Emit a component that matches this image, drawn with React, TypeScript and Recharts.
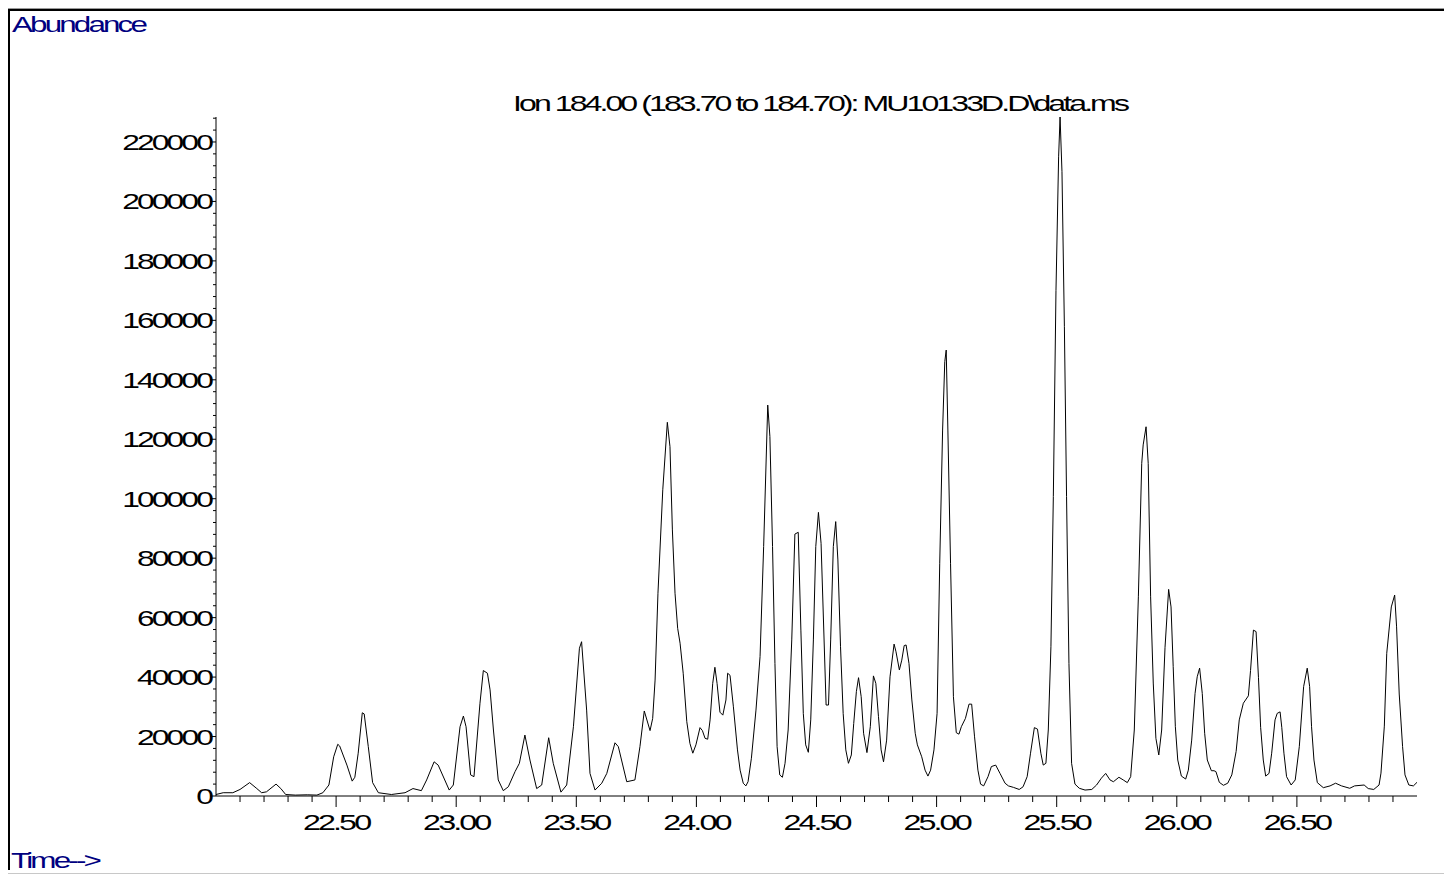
import React from 'react';
import { LineChart, Line, XAxis, YAxis } from 'recharts';

// retention time (min)
const times = [
  22.0, 22.03, 22.07, 22.1, 22.14, 22.17, 22.19, 22.21, 22.25, 22.27, 22.29, 22.33, 22.38, 22.42, 22.445, 22.47,
  22.49, 22.507, 22.515, 22.545, 22.567, 22.578, 22.592, 22.609, 22.617, 22.634, 22.652, 22.676, 22.73, 22.787,
  22.82, 22.855, 22.877, 22.908, 22.925, 22.971, 22.988, 23.016, 23.03, 23.041, 23.06, 23.074, 23.099, 23.113,
  23.13, 23.141, 23.155, 23.175, 23.196, 23.217, 23.245, 23.263, 23.286, 23.307, 23.335, 23.356, 23.385, 23.404,
  23.436, 23.46, 23.488, 23.513, 23.522, 23.543, 23.557, 23.578, 23.606, 23.627, 23.661, 23.675, 23.71, 23.744,
  23.765, 23.783, 23.807, 23.818, 23.828, 23.84, 23.86, 23.879, 23.89, 23.9, 23.911, 23.922, 23.932, 23.945,
  23.96, 23.973, 23.985, 23.998, 24.015, 24.025, 24.036, 24.047, 24.057, 24.068, 24.077, 24.086, 24.098, 24.11,
  24.123, 24.13, 24.14, 24.154, 24.171, 24.182, 24.195, 24.206, 24.215, 24.229, 24.248, 24.265, 24.28, 24.297,
  24.306, 24.317, 24.327, 24.336, 24.347, 24.358, 24.369, 24.382, 24.397, 24.41, 24.424, 24.435, 24.445, 24.455,
  24.466, 24.476, 24.487, 24.497, 24.508, 24.519, 24.529, 24.54, 24.55, 24.559, 24.57, 24.58, 24.589, 24.6,
  24.611, 24.622, 24.633, 24.645, 24.655, 24.666, 24.675, 24.686, 24.696, 24.71, 24.724, 24.737, 24.747, 24.758,
  24.769, 24.779, 24.792, 24.806, 24.823, 24.831, 24.845, 24.855, 24.865, 24.873, 24.885, 24.897, 24.911, 24.92,
  24.938, 24.952, 24.964, 24.975, 24.989, 25.002, 25.013, 25.025, 25.034, 25.04, 25.047, 25.058, 25.07, 25.082,
  25.093, 25.103, 25.12, 25.135, 25.146, 25.158, 25.172, 25.183, 25.196, 25.214, 25.228, 25.246, 25.264, 25.285,
  25.299, 25.32, 25.344, 25.36, 25.377, 25.391, 25.407, 25.42, 25.434, 25.444, 25.455, 25.465, 25.476, 25.486,
  25.497, 25.508, 25.514, 25.522, 25.532, 25.541, 25.551, 25.562, 25.576, 25.594, 25.618, 25.646, 25.666, 25.686,
  25.704, 25.722, 25.736, 25.759, 25.777, 25.794, 25.808, 25.823, 25.84, 25.854, 25.86, 25.872, 25.881, 25.891,
  25.902, 25.913, 25.925, 25.937, 25.951, 25.966, 25.976, 25.985, 25.994, 26.004, 26.019, 26.037, 26.048, 26.062,
  26.076, 26.085, 26.095, 26.106, 26.116, 26.127, 26.144, 26.155, 26.163, 26.177, 26.194, 26.212, 26.229, 26.247,
  26.26, 26.277, 26.298, 26.307, 26.319, 26.33, 26.34, 26.349, 26.36, 26.37, 26.384, 26.395, 26.409, 26.418,
  26.43, 26.437, 26.446, 26.457, 26.476, 26.493, 26.51, 26.528, 26.543, 26.553, 26.561, 26.571, 26.585, 26.61,
  26.638, 26.661, 26.686, 26.72, 26.74, 26.78, 26.797, 26.82, 26.842, 26.85, 26.864, 26.874, 26.893, 26.907,
  26.915, 26.926, 26.94, 26.95, 26.966, 26.985, 27.0,
];

// abundance of ion 184
const abundance = [
  500, 1100, 1100, 2200, 4500, 2500, 1100, 1400, 4000, 2500, 500, 300, 400, 300, 1100, 3700,
  13200, 17400, 16800, 10400, 5000, 6300, 14400, 28000, 27600, 16600, 4500, 1100, 500, 1100,
  2500, 1800, 5400, 11500, 10400, 2000, 3700, 23300, 26900, 23300, 7100, 6500, 31200, 42200,
  41300, 35700, 22200, 5400, 1800, 3100, 8200, 11000, 20500, 12100, 2500, 3700, 19600, 11000,
  1300, 3700, 23300, 49700, 51900, 28900, 7600, 2000, 4300, 7600, 17900, 16600, 4800, 5400,
  16600, 28600, 22000, 26100, 39000, 68200, 103000, 125700, 117500, 89500, 68200, 56400, 51400, 41300,
  25000, 17700, 14400, 17200, 23000, 22000, 19400, 19100, 25600, 37900, 43300, 37900, 28200, 27200,
  32300, 41300, 40600, 30000, 15500, 8700, 4300, 3400, 4800, 12700, 28900, 46900, 83900, 131500,
  120900, 83900, 44600, 16600, 7100, 6300, 11000, 22200, 52500, 88100, 88700, 55800, 27800, 17200,
  14700, 25600, 52500, 83900, 95400, 85000, 59200, 30600, 30600, 52500, 83900, 92300, 79400, 50200,
  27800, 15500, 11000, 13800, 24400, 35100, 39800, 33400, 21100, 14600, 23300, 40400, 37900, 26700,
  15500, 11500, 18800, 40100, 51100, 48500, 42400, 45700, 50600, 50800, 44600, 32300, 21100, 17200,
  13200, 8700, 6700, 8700, 15500, 27800, 78300, 123100, 146100, 150000, 123100, 78300, 33400, 21300,
  20800, 23300, 26100, 30900, 30900, 19900, 8700, 4000, 3400, 6500, 9900, 10400, 7600, 4300,
  3400, 2900, 2200, 3100, 6500, 14400, 23000, 22500, 14400, 10400, 11000, 22200, 50200, 100700,
  170000, 215000, 228400, 210000, 158000, 100700, 44600, 11000, 4000, 2600, 2000, 2200, 3700, 6000,
  7600, 5400, 4800, 6300, 5400, 4500, 6500, 22200, 67000, 111900, 118100, 124200, 111900, 67000,
  38000, 19400, 13800, 22200, 50000, 69500, 63600, 43500, 23300, 12100, 6700, 5700, 8700, 18800,
  34500, 40100, 43000, 34500, 21100, 12100, 8500, 8500, 8200, 4600, 3600, 4300, 7100, 15000,
  25600, 31200, 33700, 42200, 55800, 55300, 39900, 23100, 12100, 6700, 7600, 14400, 25600, 27800,
  28300, 23100, 14400, 6500, 3700, 5400, 16600, 36800, 43000, 36800, 23300, 12100, 4500, 2800,
  3400, 4300, 3400, 2600, 3400, 3700, 2500, 2200, 3700, 7700, 23500, 48000, 63600, 67600,
  56900, 34300, 16600, 7100, 3700, 3400, 4600,
];

const xMajorTicks = [22.5, 23.0, 23.5, 24.0, 24.5, 25.0, 25.5, 26.0, 26.5];
const yMajorTicks = [0, 20000, 40000, 60000, 80000, 100000, 120000, 140000, 160000, 180000, 200000, 220000];

// minor ticks: every 0.1 min and every 4000 counts
const xTicks = Array.from({ length: 49 }, (_, i) => Math.round((22.1 + i * 0.1) * 10) / 10);
const yTicks = Array.from({ length: 58 }, (_, i) => i * 4000);

const data = times.map((t, i) => ({ t, v: abundance[i] }));

const FONT = "'Liberation Sans', Arial, sans-serif";
const NAVY = '#000080';

const textWidth = (s: string) => s.split('').reduce((w, c) => w + (c === '.' ? 7 : 14.8), 0);

const Stretch = ({ x, y, w, anchor = 'start', fill = '#000', children }: any) => (
  <text
    x={x}
    y={y}
    textLength={w}
    lengthAdjust="spacingAndGlyphs"
    textAnchor={anchor}
    fill={fill}
    fontFamily={FONT}
    fontSize={22}
    letterSpacing={-2}
  >
    {children}
  </text>
);

const XTick = ({ x, y, payload }: any) => {
  const v = payload.value;
  const major = xMajorTicks.some((m) => Math.abs(m - v) < 1e-6);
  const label = v.toFixed(2);
  return (
    <g>
      <line x1={x} x2={x} y1={y} y2={y + (major ? 11 : 6)} stroke="#000" strokeWidth={1} />
      {major && (
        <Stretch x={x} y={y + 34} w={textWidth(label)} anchor="middle">
          {label}
        </Stretch>
      )}
    </g>
  );
};

const YTick = ({ x, y, payload }: any) => {
  const v = payload.value;
  const major = yMajorTicks.includes(v);
  const label = String(v);
  return (
    <g>
      <line x1={x - (major ? 6 : 3)} x2={x} y1={y} y2={y} stroke="#000" strokeWidth={1} />
      {major && (
        <Stretch x={x - 5} y={y + 8} w={textWidth(label)} anchor="end">
          {label}
        </Stretch>
      )}
    </g>
  );
};

const App = () => {
  return (
    <div style={{ position: 'fixed', left: 8, top: 8, width: 1436, height: 866, background: '#fff', overflow: 'hidden' }}>
      <div style={{ position: 'absolute', left: 0, top: 0, width: 1436, height: 1, background: '#9a9a9a' }} />
      <div style={{ position: 'absolute', left: 0, top: 1, width: 1436, height: 2, background: '#000' }} />
      <div style={{ position: 'absolute', left: 0, top: 1, width: 2, height: 861, background: '#000' }} />
      <div style={{ position: 'absolute', left: 0, top: 865, width: 1436, height: 1, background: '#c8c8c8' }} />

      <div style={{ position: 'absolute', left: 0, top: 0 }}>
        <LineChart width={1436} height={866} data={data} margin={{ top: 109, right: 27, left: 8, bottom: 28 }}>
          <XAxis
            dataKey="t"
            type="number"
            domain={[22, 27]}
            ticks={xTicks}
            interval={0}
            tick={<XTick />}
            tickLine={false}
            tickSize={0}
            tickMargin={0}
            axisLine={{ stroke: '#000', strokeWidth: 1 }}
            height={50}
          />
          <YAxis
            type="number"
            domain={[0, 228400]}
            ticks={yTicks}
            interval={0}
            tick={<YTick />}
            tickLine={false}
            tickSize={0}
            tickMargin={0}
            axisLine={{ stroke: '#000', strokeWidth: 1 }}
            width={200}
          />
          <Line
            type="linear"
            dataKey="v"
            stroke="#000"
            strokeWidth={1}
            dot={false}
            isAnimationActive={false}
          />
        </LineChart>
      </div>

      <svg
        width={1436}
        height={866}
        style={{ position: 'absolute', left: 0, top: 0, pointerEvents: 'none' }}
      >
        <Stretch x={4} y={24} w={133} fill={NAVY}>
          Abundance
        </Stretch>
        <Stretch x={505} y={103} w={614}>
          {'Ion 184.00 (183.70 to 184.70): MU10133D.D\\data.ms'}
        </Stretch>
        <Stretch x={3} y={860} w={88} fill={NAVY}>
          {'Time-->'}
        </Stretch>
      </svg>
    </div>
  );
};

export default App;
